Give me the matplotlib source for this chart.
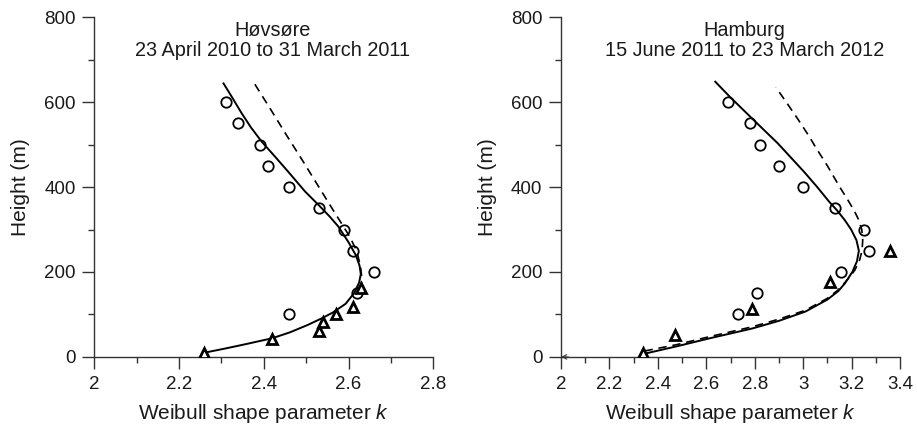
import matplotlib
matplotlib.use('Agg')
from matplotlib import pyplot as plt
from matplotlib.ticker import MultipleLocator

plt.rcParams['font.family'] = ['Liberation Sans', 'DejaVu Sans']
plt.rcParams['mathtext.fontset'] = 'custom'
plt.rcParams['mathtext.it'] = 'Liberation Sans:italic'
plt.rcParams['mathtext.rm'] = 'Liberation Sans'

# Hovsore measurements (k, height)
hov_circ_k = [2.31, 2.34, 2.39, 2.41, 2.46, 2.53, 2.59, 2.61, 2.66, 2.62, 2.46]
hov_circ_h = [600, 550, 500, 450, 400, 350, 300, 250, 200, 150, 100]
hov_tri_k = [2.26, 2.42, 2.53, 2.54, 2.57, 2.61, 2.63]
hov_tri_h = [10, 42, 62, 82, 101, 118, 162]
hov_solid_k = [2.260, 2.310, 2.357, 2.420, 2.462, 2.503, 2.535, 2.562, 2.593,
               2.613, 2.625, 2.629, 2.626, 2.617, 2.600, 2.576, 2.556, 2.533,
               2.497, 2.462, 2.428, 2.395, 2.370, 2.347, 2.326, 2.305]
hov_solid_h = [10, 20, 30, 44, 58, 75, 90, 104, 125, 150, 175, 195, 215, 240,
               270, 307, 330, 354, 390, 431, 470, 507, 540, 575, 610, 644]
hov_dash_k = [2.379, 2.418, 2.455, 2.493, 2.530, 2.561, 2.588, 2.603, 2.619,
              2.628, 2.631, 2.630, 2.626]
hov_dash_h = [642, 580, 520, 460, 400, 350, 307, 283, 250, 215, 190, 170, 155]

# Hamburg measurements
ham_circ_k = [2.69, 2.78, 2.82, 2.90, 3.00, 3.13, 3.25, 3.27, 3.155, 2.81, 2.73]
ham_circ_h = [600, 550, 500, 450, 400, 350, 300, 250, 200, 150, 100]
ham_tri_k = [2.34, 2.47, 2.79, 3.11, 3.36]
ham_tri_h = [10, 52, 112, 177, 250]
ham_solid_k = [2.348, 2.478, 2.615, 2.790, 2.900, 3.010, 3.100, 3.145, 3.172,
               3.203, 3.222, 3.230, 3.220, 3.198, 3.172, 3.140, 3.108, 3.058,
               3.005, 2.895, 2.797, 2.698, 2.637]
ham_solid_h = [8, 25, 44, 67, 85, 107, 135, 155, 173, 200, 225, 250, 275, 300,
               322, 345, 365, 400, 435, 503, 557, 612, 648]
ham_dash_k = [2.345, 2.478, 2.615, 2.790, 2.900, 3.010, 3.100, 3.145, 3.172,
              3.195, 3.214, 3.233, 3.243, 3.246, 3.242, 3.230, 3.210, 3.185,
              3.150, 3.100, 3.050, 3.024, 2.978, 2.930, 2.887]
ham_dash_h = [14, 29, 48, 71, 89, 110, 138, 158, 175, 190, 205, 228, 250, 275,
              300, 322, 345, 369, 401, 450, 495, 520, 560, 600, 635]

panels = [
    dict(title='Høvsøre\n23 April 2010 to 31 March 2011', xmax=2.8, tx=0.527,
         ck=hov_circ_k, ch=hov_circ_h, tk=hov_tri_k, th=hov_tri_h,
         sk=hov_solid_k, sh=hov_solid_h, dk=hov_dash_k, dh=hov_dash_h),
    dict(title='Hamburg\n15 June 2011 to 23 March 2012', xmax=3.4, tx=0.542,
         ck=ham_circ_k, ch=ham_circ_h, tk=ham_tri_k, th=ham_tri_h,
         sk=ham_solid_k, sh=ham_solid_h, dk=ham_dash_k, dh=ham_dash_h),
]

fig = plt.figure(figsize=(9.17, 4.29), dpi=100)
lefts = [0.1028, 0.6118]
spine_c = '#333333'

for i, p in enumerate(panels):
    ax = fig.add_axes([lefts[i], 0.168, 0.3697, 0.792])
    ax.plot(p['sk'], p['sh'], color='black', lw=1.4, zorder=3)
    ax.plot(p['dk'], p['dh'], color='black', lw=1.2, ls=(0, (5, 3.5)), zorder=3)
    ax.plot(p['ck'], p['ch'], 'o', ms=7.5, mfc='none', mec='black', mew=1.3, zorder=4)
    ax.plot(p['tk'], p['th'], '^', ms=6.5, mfc='white', mec='black', mew=2.0, zorder=4)

    ax.set_xlim(2, p['xmax'])
    ax.set_ylim(0, 800)
    ax.xaxis.set_major_locator(MultipleLocator(0.2))
    ax.xaxis.set_minor_locator(MultipleLocator(0.1))
    ax.yaxis.set_major_locator(MultipleLocator(200))
    ax.yaxis.set_minor_locator(MultipleLocator(100))
    ax.xaxis.set_major_formatter(lambda v, pos: f'{v:g}')

    for s in ['top', 'right']:
        ax.spines[s].set_visible(False)
    for s in ['left', 'bottom']:
        ax.spines[s].set_color(spine_c)
        ax.spines[s].set_linewidth(1.0)
    ax.tick_params(which='major', direction='out', length=8.5, width=1.0,
                   color=spine_c, labelsize=13.5, labelcolor='#1a1a1a', pad=5)
    ax.tick_params(which='minor', direction='out', length=4.5, width=1.0,
                   color=spine_c)

    ax.set_ylabel('Height (m)', fontsize=15, color='#1a1a1a', labelpad=10)
    ax.set_xlabel('Weibull shape parameter $k$', fontsize=15, color='#1a1a1a',
                  labelpad=7)
    ax.text(p['tx'], 0.99, p['title'], transform=ax.transAxes, ha='center',
            va='top', fontsize=14.3, color='#1a1a1a', linespacing=1.12)

    if i == 1:
        ax.annotate('', xy=(2.0, 0), xytext=(2.03, 0),
                    arrowprops=dict(arrowstyle='->', lw=0.8, color=spine_c,
                                    shrinkA=0, shrinkB=0, mutation_scale=8),
                    annotation_clip=False)

fig.savefig('out.png', dpi=100)
